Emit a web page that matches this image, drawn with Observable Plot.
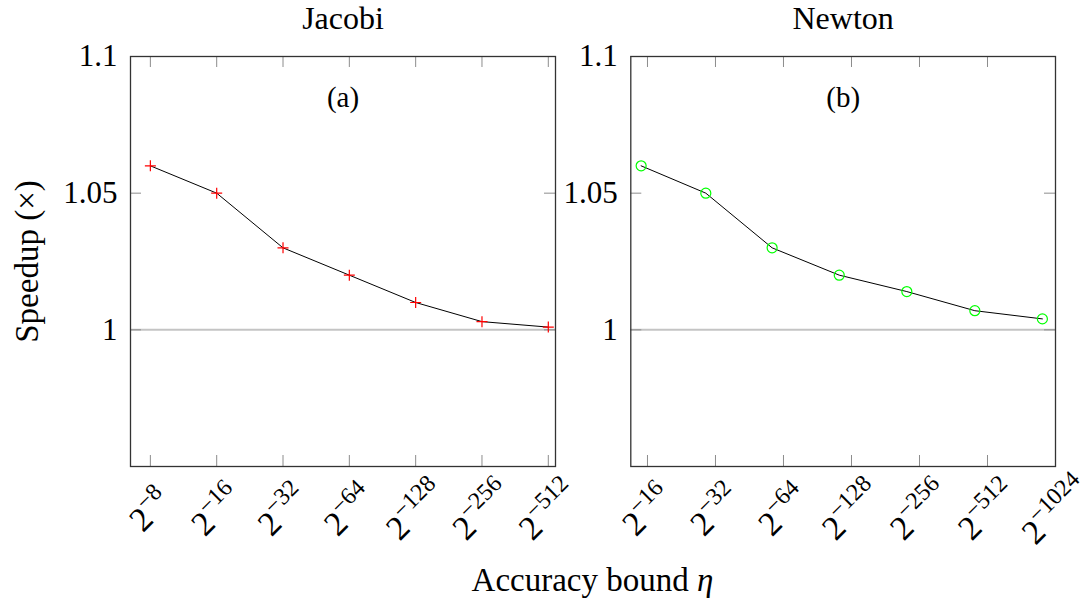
<!DOCTYPE html>
<html>
<head>
<meta charset="utf-8">
<script src="https://cdn.jsdelivr.net/npm/d3@7"></script>
<script src="https://cdn.jsdelivr.net/npm/@observablehq/plot@0.6"></script>
<style>
  body { margin: 0; background: #fff; }
  #fig { position: relative; width: 1092px; height: 604px; font-family: "Liberation Serif", "DejaVu Serif", serif; color: #000; }
  #fig svg { position: absolute; left: 0; top: 0; overflow: visible; }
  #xlabel { position: absolute; left: 130px; width: 925px; top: 564px; text-align: center; font-size: 33px; line-height: 33px; }
</style>
</head>
<body>
<div id="fig"><div id="xlabel">Accuracy bound <i>η</i></div></div>
<script>
// Accuracy bound exponents (η = 2^-k) and measured speedups
const jacobiEta = [8, 16, 32, 64, 128, 256, 512];
const jacobiSpeedup = [1.06, 1.05, 1.03, 1.02, 1.01, 1.003, 1.001];
const newtonEta = [15, 29, 57, 113, 225, 450, 896];
const newtonSpeedup = [1.06, 1.05, 1.03, 1.02, 1.014, 1.007, 1.004];

// Tick values
const jacobiTicks = [8, 16, 32, 64, 128, 256, 512];
const newtonTicks = [16, 32, 64, 128, 256, 512, 1024];
const speedupTicks = [1, 1.05, 1.1];

const panelTitles = ["Jacobi", "Newton"];
const panelTags = ["(a)", "(b)"];
const yTitle = "Speedup (×)";

// Thin stroked "+" marker
const plusSymbol = {
  draw(ctx, size) {
    const r = Math.sqrt(size / Math.PI);
    ctx.moveTo(-r, 0); ctx.lineTo(r, 0);
    ctx.moveTo(0, -r); ctx.lineTo(0, r);
  }
};

const W = 1092, H = 604, MT = 56, MB = 138;
const frameH = H - MT - MB;
const TICK = 11;
const FONT = "'Liberation Serif', 'DejaVu Serif', serif";

function panel({eta, speedup, ticks, domain, marginLeft, marginRight, title, tag, marker, withYLabel}) {
  const data = eta.map((e, i) => ({eta: e, speedup: speedup[i]}));
  const frameW = W - marginLeft - marginRight;
  const tickStyle = {stroke: "#8c8c8c", strokeWidth: 1};
  const marks = [
    Plot.ruleY([1], {stroke: "#c4c4c4", strokeWidth: 2}),
    // inward ticks on all four sides
    Plot.ruleX(ticks, {x: d => d, insetTop: frameH - TICK, ...tickStyle}),
    Plot.ruleX(ticks, {x: d => d, insetBottom: frameH - TICK, ...tickStyle}),
    Plot.ruleY(speedupTicks, {y: d => d, insetRight: frameW - TICK, ...tickStyle}),
    Plot.ruleY(speedupTicks, {y: d => d, insetLeft: frameW - TICK, ...tickStyle}),
    Plot.frame({stroke: "#333", strokeWidth: 1.3}),
    Plot.line(data, {x: "eta", y: "speedup", stroke: "#000", strokeWidth: 1}),
    marker === "plus"
      ? Plot.dot(data, {x: "eta", y: "speedup", symbol: plusSymbol, r: 5.5, stroke: "#ff0000", strokeWidth: 1.2, fill: "none"})
      : Plot.dot(data, {x: "eta", y: "speedup", symbol: "circle", r: 5, stroke: "#00ff00", strokeWidth: 1.2, fill: "none"}),
    Plot.axisY({ticks: speedupTicks, tickSize: 0, tickPadding: 13, fontSize: 31, tickFormat: d => String(d), label: null}),
    Plot.axisX({ticks, tickSize: 0, tickPadding: 44, rotate: -45, textAnchor: "middle", lineAnchor: "middle",
                fontSize: 34, tickFormat: d => `2^−${d}`, label: null}),
    Plot.text([title], {text: d => d, frameAnchor: "top", lineAnchor: "bottom", dy: -28, fontSize: 32, fill: "#000"}),
    Plot.text([tag], {text: d => d, frameAnchor: "top", lineAnchor: "bottom", dy: 50, fontSize: 29, fill: "#000"})
  ];
  if (withYLabel) {
    marks.push(Plot.text([yTitle], {text: d => d, frameAnchor: "left", dx: -103, rotate: -90,
      textAnchor: "middle", lineAnchor: "middle", fontSize: 33, fill: "#000"}));
  }
  const svg = Plot.plot({
    width: W, height: H,
    marginTop: MT, marginBottom: MB, marginLeft, marginRight,
    style: {background: "transparent", fontFamily: FONT, color: "#000", overflow: "visible"},
    x: {type: "log", base: 2, domain},
    y: {domain: [0.95, 1.1]},
    marks
  });
  svg.querySelectorAll("text").forEach(t => t.setAttribute("font-family", FONT));
  // turn "2^−k" tick labels into a base with a raised exponent
  svg.querySelectorAll("text").forEach(t => {
    const s = t.textContent;
    if (!s.includes("^")) return;
    const [base, exp] = s.split("^");
    t.textContent = base;
    const sup = document.createElementNS("http://www.w3.org/2000/svg", "tspan");
    sup.setAttribute("dy", "-14");
    sup.setAttribute("font-size", "24");
    sup.textContent = exp;
    t.appendChild(sup);
  });
  return svg;
}

const fig = document.getElementById("fig");
fig.appendChild(panel({
  eta: jacobiEta, speedup: jacobiSpeedup, ticks: jacobiTicks, domain: [6.5, 552],
  marginLeft: 130, marginRight: W - 555, title: panelTitles[0], tag: panelTags[0], marker: "plus", withYLabel: true
}));
fig.appendChild(panel({
  eta: newtonEta, speedup: newtonSpeedup, ticks: newtonTicks, domain: [13.5, 1024],
  marginLeft: 630.3, marginRight: W - 1055, title: panelTitles[1], tag: panelTags[1], marker: "circle", withYLabel: false
}));
</script>
</body>
</html>
